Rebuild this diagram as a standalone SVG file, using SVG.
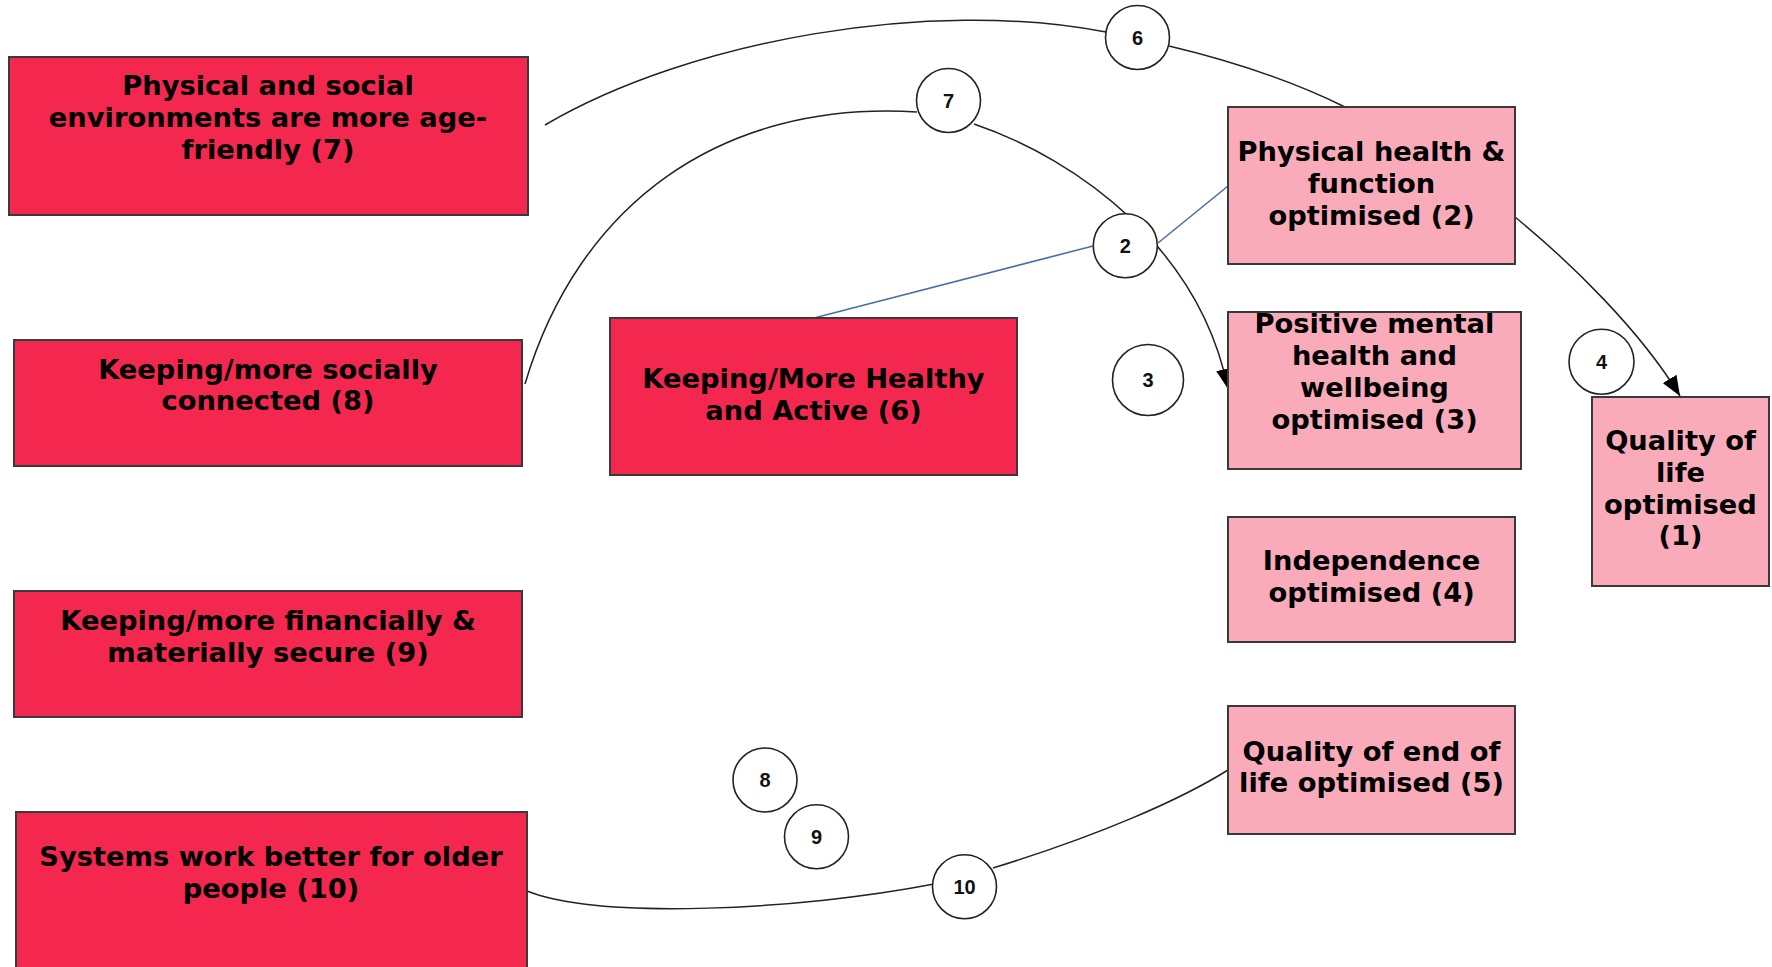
<svg xmlns="http://www.w3.org/2000/svg" width="1772" height="967" viewBox="0 0 1772 967">
  <style>
    .driver { fill: #f4284f; stroke: #3a3a3a; stroke-width: 2; }
    .outcome { fill: #f9abba; stroke: #3a3a3a; stroke-width: 2; }
    .label { font-family: "DejaVu Sans", Verdana, sans-serif; font-weight: bold; font-size: 27.3px; fill: #000; text-anchor: middle; }
    .badge { fill: #fff; stroke: #222; stroke-width: 1.6; }
    .num { font-family: "Liberation Sans", Arial, sans-serif; font-weight: bold; font-size: 20px; fill: #111; text-anchor: middle; }
    .link { fill: none; stroke: #222; stroke-width: 1.5; }
    .blue { fill: none; stroke: #4a6ea8; stroke-width: 1.6; }
  </style>
  <defs>
    <marker id="arrow" viewBox="0 0 20 16" refX="20" refY="8" markerWidth="20" markerHeight="16" markerUnits="userSpaceOnUse" orient="auto">
      <path d="M0,0 L20,8 L0,16 Z" fill="#000"/>
    </marker>
  </defs>

  <rect width="1772" height="967" fill="#fff"/>

  <!-- connectors -->
  <g id="connectors">
    <path class="link" d="M545,125 C690,40 930,-2 1106,32"/>
    <path class="link" d="M1169,46 Q1270,70 1345,107"/>
    <path class="link" d="M525,384 C578,205 720,100 917,112"/>
    <path class="link" d="M974,124 C1080,160 1200,250 1228,389" marker-end="url(#arrow)"/>
    <path class="link" d="M1515,217 C1570,262 1640,330 1680,396" marker-end="url(#arrow)"/>
    <path class="blue" d="M814,318 L1093,246"/>
    <path class="blue" d="M1158,243 L1228,186"/>
    <path class="link" d="M527,891 C600,920 800,910 934,884"/>
    <path class="link" d="M993,868 C1100,835 1180,800 1228,770"/>
  </g>

  <!-- driver boxes -->
  <g id="node-7">
    <rect class="driver" x="9" y="57" width="519" height="158"/>
    <text class="label" x="268" y="94.5">Physical and social</text>
    <text class="label" x="268" y="126.5">environments are more age-</text>
    <text class="label" x="268" y="158.5">friendly (7)</text>
  </g>
  <g id="node-8">
    <rect class="driver" x="14" y="340" width="508" height="126"/>
    <text class="label" x="268" y="378.5">Keeping/more socially</text>
    <text class="label" x="268" y="410">connected (8)</text>
  </g>
  <g id="node-9">
    <rect class="driver" x="14" y="591" width="508" height="126"/>
    <text class="label" x="268" y="629.5">Keeping/more financially &amp;</text>
    <text class="label" x="268" y="661.5">materially secure (9)</text>
  </g>
  <g id="node-10">
    <rect class="driver" x="16" y="812" width="511" height="180"/>
    <text class="label" x="271" y="865.5">Systems work better for older</text>
    <text class="label" x="271" y="897.5">people (10)</text>
  </g>
  <g id="node-6">
    <rect class="driver" x="610" y="318" width="407" height="157"/>
    <text class="label" x="813.5" y="388">Keeping/More Healthy</text>
    <text class="label" x="813.5" y="420">and Active (6)</text>
  </g>

  <!-- outcome boxes -->
  <g id="node-2">
    <rect class="outcome" x="1228" y="107" width="287" height="157"/>
    <text class="label" x="1371.5" y="161">Physical health &amp;</text>
    <text class="label" x="1371.5" y="193">function</text>
    <text class="label" x="1371.5" y="224.5">optimised (2)</text>
  </g>
  <g id="node-3">
    <rect class="outcome" x="1228" y="312" width="293" height="157"/>
    <text class="label" x="1374.5" y="333">Positive mental</text>
    <text class="label" x="1374.5" y="365">health and</text>
    <text class="label" x="1374.5" y="397">wellbeing</text>
    <text class="label" x="1374.5" y="429">optimised (3)</text>
  </g>
  <g id="node-4">
    <rect class="outcome" x="1228" y="517" width="287" height="125"/>
    <text class="label" x="1371.5" y="570">Independence</text>
    <text class="label" x="1371.5" y="602">optimised (4)</text>
  </g>
  <g id="node-5">
    <rect class="outcome" x="1228" y="706" width="287" height="128"/>
    <text class="label" x="1371.5" y="760.5">Quality of end of</text>
    <text class="label" x="1371.5" y="792">life optimised (5)</text>
  </g>
  <g id="node-1">
    <rect class="outcome" x="1592" y="397" width="177" height="189"/>
    <text class="label" x="1680.5" y="450">Quality of</text>
    <text class="label" x="1680.5" y="482">life</text>
    <text class="label" x="1680.5" y="513.5">optimised</text>
    <text class="label" x="1680.5" y="545">(1)</text>
  </g>

  <!-- numbered link badges -->
  <g id="badge-6"><circle class="badge" cx="1137.5" cy="37.5" r="32"/><text class="num" x="1137.5" y="44.5">6</text></g>
  <g id="badge-7"><circle class="badge" cx="948.5" cy="100.5" r="32"/><text class="num" x="948.5" y="107.5">7</text></g>
  <g id="badge-2"><circle class="badge" cx="1125.3" cy="245.7" r="32"/><text class="num" x="1125.3" y="252.7">2</text></g>
  <g id="badge-3"><circle class="badge" cx="1148" cy="380" r="35.5"/><text class="num" x="1148" y="387">3</text></g>
  <g id="badge-4"><circle class="badge" cx="1601.5" cy="361.7" r="32.5"/><text class="num" x="1601.5" y="368.7">4</text></g>
  <g id="badge-8"><circle class="badge" cx="765" cy="780" r="32"/><text class="num" x="765" y="787">8</text></g>
  <g id="badge-9"><circle class="badge" cx="816.5" cy="836.7" r="32"/><text class="num" x="816.5" y="843.7">9</text></g>
  <g id="badge-10"><circle class="badge" cx="964.5" cy="886.7" r="32"/><text class="num" x="964.5" y="893.7">10</text></g>
</svg>
